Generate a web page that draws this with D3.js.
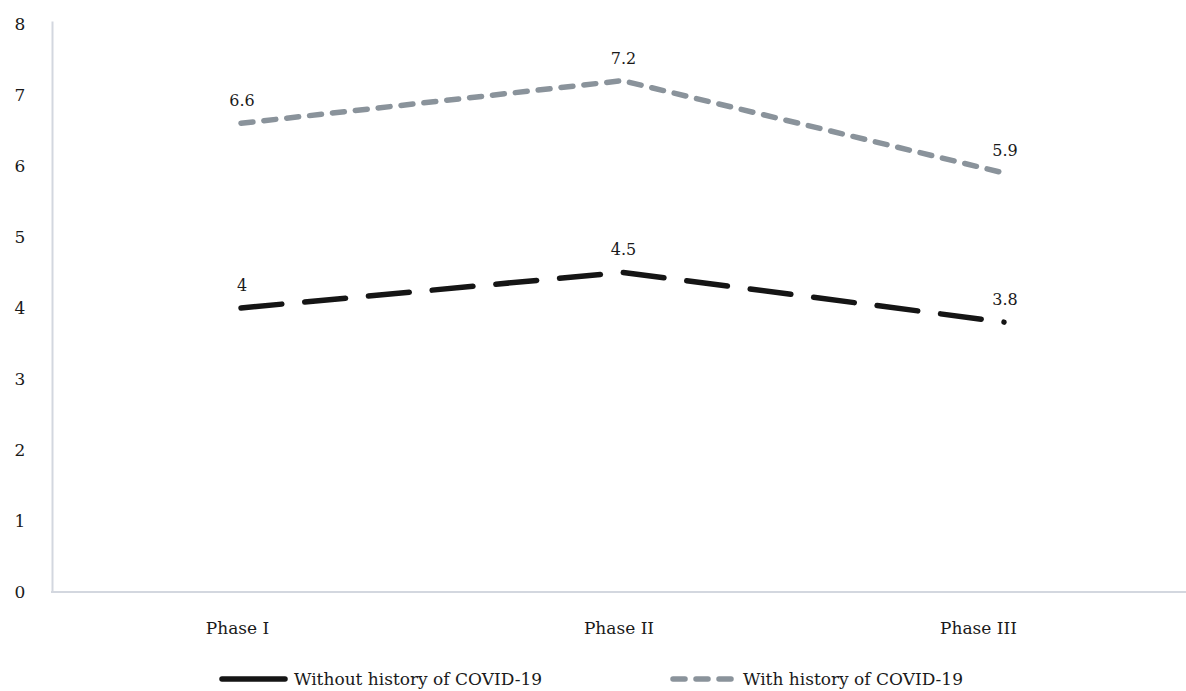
<!DOCTYPE html>
<html>
<head>
<meta charset="utf-8">
<script src="https://cdn.jsdelivr.net/npm/d3@7"></script>
<style>
  html, body { margin: 0; padding: 0; background: #ffffff; }
  svg { display: block; }
  text { font-family: "DejaVu Serif", serif; fill: #1a1a1a; }
</style>
</head>
<body>
<svg id="chart" width="1186" height="691"></svg>
<script>
// ---- data ----
const categories = ["Phase I", "Phase II", "Phase III"];
const withoutHistory = [4, 4.5, 3.8];
const withHistory = [6.6, 7.2, 5.9];
const yTicks = [0, 1, 2, 3, 4, 5, 6, 7, 8];
const seriesNames = ["Without history of COVID-19", "With history of COVID-19"];

// ---- layout ----
const W = 1186, H = 691;
const svg = d3.select("#chart");

const x = d3.scalePoint().domain(categories).range([241, 1004]);
const y = d3.scaleLinear().domain([0, 8.04]).range([592, 21]);

// axes
const yAxis = svg.append("g").attr("transform", "translate(52,0)")
  .call(d3.axisLeft(y).tickValues(yTicks).tickSize(0).tickPadding(32).tickFormat(d3.format("d")));
yAxis.select(".domain").attr("stroke", "#d3d7df").attr("stroke-width", 2);
yAxis.selectAll("text").attr("font-size", 17).attr("font-family", "DejaVu Serif").attr("fill", "#1a1a1a")
  .attr("text-anchor", "middle");

const xAxisG = svg.append("g").attr("transform", "translate(0,592)");
xAxisG.append("line").attr("x1", 51).attr("x2", W).attr("y1", 0).attr("y2", 0)
  .attr("stroke", "#d3d7df").attr("stroke-width", 2);
xAxisG.call(d3.axisBottom(x).tickSize(0).tickPadding(30))
  .select(".domain").remove();
xAxisG.selectAll("text").attr("font-size", 17).attr("font-family", "DejaVu Serif").attr("fill", "#1a1a1a")
  .attr("dx", (d, i) => i === 2 ? -26 : -4);

// lines
const line = d3.line().x((d, i) => x(categories[i])).y(d => y(d));

const series = [
  { name: seriesNames[0], values: withoutHistory, color: "#151515", dash: 41, periods: 12 },
  { name: seriesNames[1], values: withHistory, color: "#8a939b", dash: 12, gap: 11 }
];

series.forEach(s => {
  const p = svg.append("path")
    .datum(s.values)
    .attr("d", line)
    .attr("fill", "none")
    .attr("stroke", s.color)
    .attr("stroke-width", 5.5)
    .attr("stroke-linecap", "round")
    .attr("stroke-linejoin", "round");
  if (s.periods) {
    const len = p.node().getTotalLength();
    const period = (len - 0.01) / s.periods;
    p.attr("stroke-dasharray", s.dash + "," + (period - s.dash));
  } else {
    p.attr("stroke-dasharray", s.dash + "," + s.gap);
  }

  svg.append("g").selectAll("text")
    .data(s.values)
    .join("text")
    .attr("x", (d, i) => x(categories[i]) + 1)
    .attr("y", d => y(d) - 17)
    .attr("text-anchor", "middle")
    .attr("font-size", 16)
    .text(d => d);
});

// legend
const legend = svg.append("g").attr("transform", "translate(0,679)");
const legendItems = [
  { x0: 222, x1: 285, tx: 294, s: series[0], dash: null },
  { x0: 673, x1: 731, tx: 743, s: series[1], dash: "12,11" }
];
legendItems.forEach(it => {
  legend.append("line")
    .attr("x1", it.x0).attr("x2", it.x1).attr("y1", 0).attr("y2", 0)
    .attr("stroke", it.s.color).attr("stroke-width", 5.5)
    .attr("stroke-linecap", "round")
    .attr("stroke-dasharray", it.dash);
  legend.append("text")
    .attr("x", it.tx).attr("y", 6)
    .attr("font-size", 17)
    .text(it.s.name);
});
</script>
</body>
</html>
